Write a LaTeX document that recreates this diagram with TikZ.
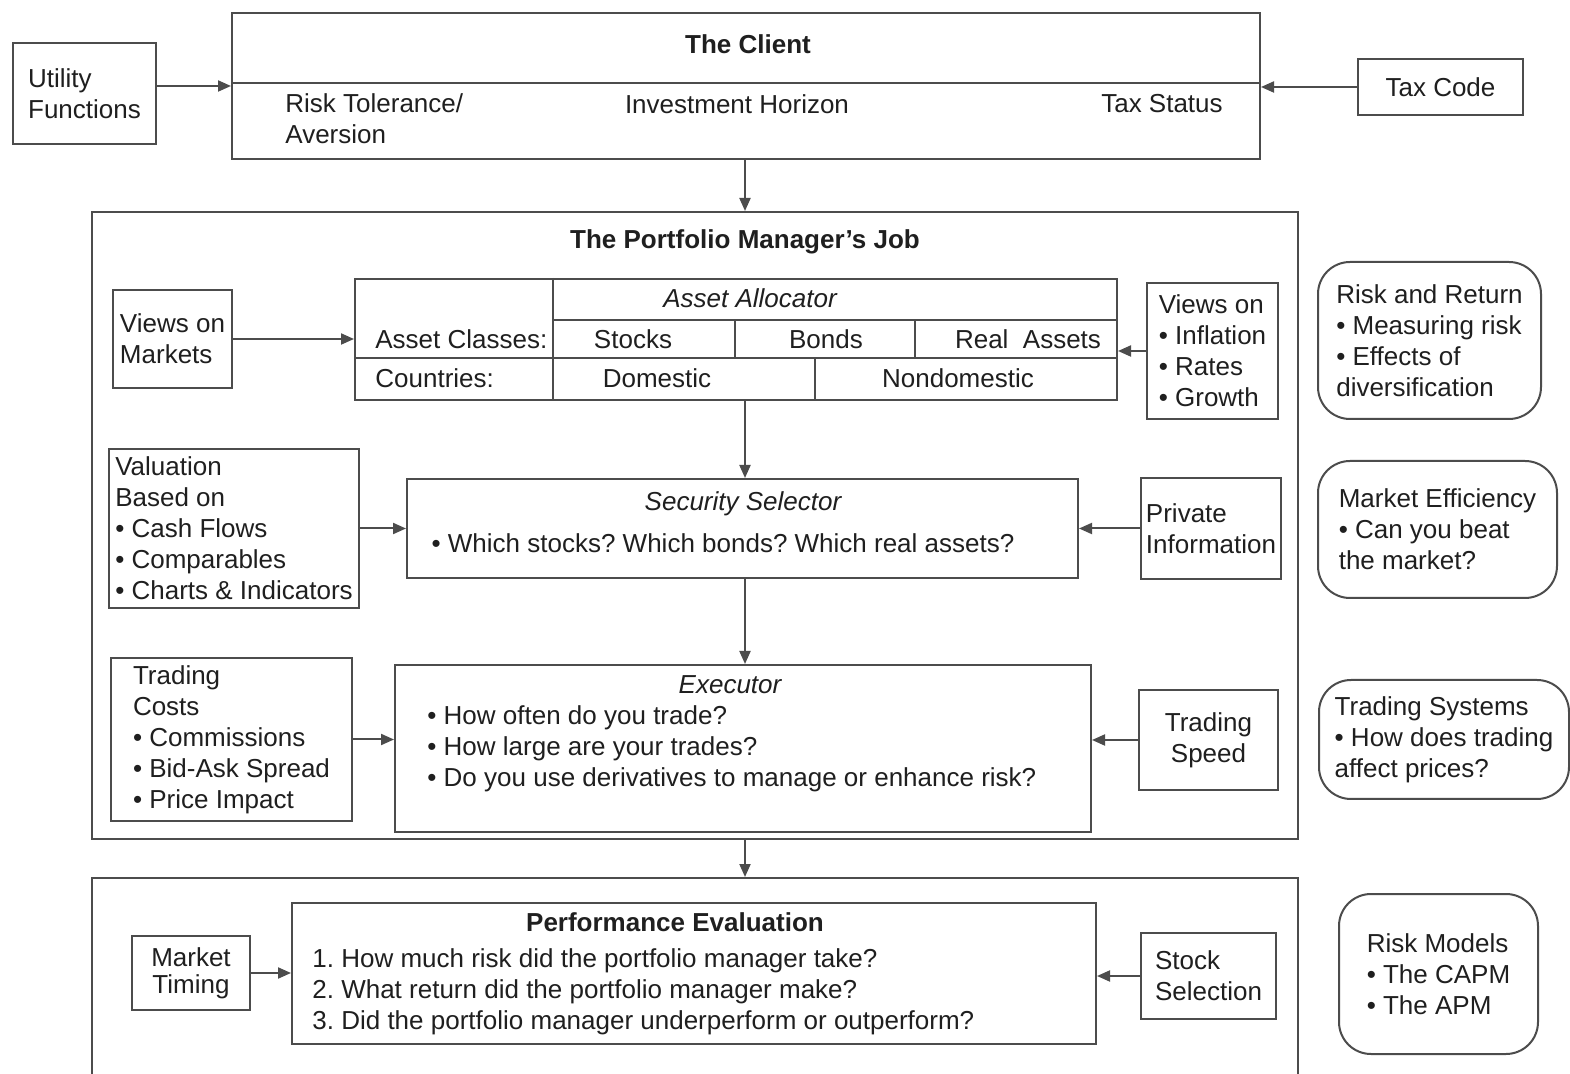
\documentclass[tikz,border=0pt]{standalone}
\usepackage{fontspec}
\setmainfont{Liberation Sans}
\usetikzlibrary{arrows.meta}
\frenchspacing
\begin{document}
\begin{tikzpicture}[x=0.5pt,y=-0.5pt,
  every node/.style={font=\fontsize{13}{15.5}\selectfont, text=black!88},
  ln/.style={draw=black!70, line width=1pt},
  bx/.style={ln, rectangle, inner sep=0pt, anchor=north west, align=left},
  rbx/.style={bx, rounded corners=16pt},
  txt/.style={inner sep=0pt},
  arr/.style={ln, -{Triangle[length=6.5pt,width=5.5pt]}},
  ttl/.style={txt, font=\fontsize{13}{15.5}\selectfont\bfseries},
  itl/.style={txt, font=\fontsize{13}{15.5}\selectfont\itshape}
]
\useasboundingbox (0,0) rectangle (1570,1074);
\clip (0,0) rectangle (1570,1074);
\fill[white] (0,0) rectangle (1570,1074);
\coordinate (spine) at (745,0);

% Client
\node[bx, minimum width=514pt, minimum height=73pt] (client) at (231,12) {};
\draw[ln] ([yshift=1.5pt]client.west) -- ([yshift=1.5pt]client.east);
\node[ttl] (clientT) at (748,44) {The Client};
\node[txt, anchor=west, align=left] (risk) at (285,118.5) {Risk Tolerance/\\Aversion};
\node[txt] (horiz) at (737,104) {Investment Horizon};
\node[txt] (taxs) at (1162,104) {Tax Status};

\node[bx, minimum width=71.5pt, minimum height=50.5pt] (util) at (12,42) {Utility\\Functions};
\node[bx, minimum width=82.5pt, minimum height=28pt, align=center] (tax) at (1357,58) {Tax Code};
\draw[arr] (util.east |- client.west) -- (client.west);
\draw[arr] (tax.west) -- (tax.west -| client.east);

% Portfolio manager
\node[bx, minimum width=603pt, minimum height=313.5pt] (pm) at (91,211) {};
\draw[arr] (client.south -| spine) -- (pm.north -| spine);
\node[ttl] (pmT) at (745,242) {The Portfolio Manager's Job};

% Asset allocator table
\node[bx, minimum width=381pt, minimum height=60.5pt] (alloc) at (354,278) {};
\draw[ln] (553,278) -- (553,399);
\draw[ln] (553,320) -- (1116,320);
\draw[ln] (354,358) -- (1116,358);
\draw[ln] (735,320) -- (735,358);
\draw[ln] (915,320) -- (915,358);
\draw[ln] (815,358) -- (815,399);
\node[itl] (aaT) at (750,298) {Asset Allocator};
\node[txt, anchor=west] (acl) at (375,339) {Asset Classes:};
\node[txt, anchor=west] (ctl) at (375,378) {Countries:};
\node[txt] (stk) at (633,339) {Stocks};
\node[txt] (bnd) at (826,339) {Bonds};
\node[txt] (rea) at (1028,339) {Real\ \ Assets};
\node[txt] (dom) at (657,378) {Domestic};
\node[txt] (ndom) at (958,378) {Nondomestic};

\node[bx, minimum width=59.5pt, minimum height=49pt] (vm) at (112,289) {Views on\\Markets};
\draw[arr] (vm.east) -- (vm.east -| alloc.west);
\node[bx, minimum width=65.5pt, minimum height=68pt] (vi) at (1146,282) {Views on\\• Inflation\\• Rates\\• Growth};
\draw[arr] (vi.west) -- (vi.west -| alloc.east);

% Security selector
\node[bx, minimum width=335.5pt, minimum height=49.5pt] (ss) at (406,478) {};
\draw[arr] (alloc.south -| spine) -- (ss.north -| spine);
\node[itl] (ssT) at (743,504) {Security Selector};
\node[txt] (ssQ) at (723,543) {• Which stocks? Which bonds? Which real assets?};
\node[bx, minimum width=125pt, minimum height=79.5pt] (val) at (108,448) {Valuation\\Based on\\• Cash Flows\\• Comparables\\• Charts \& Indicators};
\draw[arr] (val.east) -- (val.east -| ss.west);
\node[bx, minimum width=70pt, minimum height=50.5pt] (pi) at (1140,477) {Private\\Information};
\draw[arr] (pi.west) -- (pi.west -| ss.east);

% Executor
\node[bx, minimum width=348pt, minimum height=83.5pt] (ex) at (394,664) {};
\draw[arr] (ss.south -| spine) -- (ex.north -| spine);
\node[itl] (exT) at (730,685) {Executor};
\node[txt, anchor=west, align=left] (exQ) at (427,748.5) {• How often do you trade?\\• How large are your trades?\\• Do you use derivatives to manage or enhance risk?};
\node[bx, minimum width=120.5pt, minimum height=81.5pt] (tc) at (110,657) {Trading\\Costs\\• Commissions\\• Bid-Ask Spread\\• Price Impact};
\draw[arr] (tc.east) -- (tc.east -| ex.west);
\node[bx, minimum width=69.5pt, minimum height=50pt, align=center] (ts) at (1138,689) {Trading\\Speed};
\draw[arr] (ts.west) -- (ts.west -| ex.east);

% Performance evaluation
\node[bx, minimum width=603pt, minimum height=111.5pt] (bot) at (91,877) {};
\draw[arr] (pm.south -| spine) -- (bot.north -| spine);
\node[bx, minimum width=402pt, minimum height=70.5pt] (pe) at (291,902) {};
\node[ttl] (peT) at (675,922) {Performance Evaluation};
\node[txt, anchor=west, align=left] (peQ) at (312,991.5) {1. How much risk did the portfolio manager take?\\2. What return did the portfolio manager make?\\3. Did the portfolio manager underperform or outperform?};
\node[bx, minimum width=59pt, minimum height=37pt, align=center, font=\fontsize{13}{13.5}\selectfont] (mt) at (131,935) {Market\\Timing};
\draw[arr] (mt.east) -- (mt.east -| pe.west);
\node[bx, minimum width=67.5pt, minimum height=43pt] (ssel) at (1140,932) {Stock\\Selection};
\draw[arr] (ssel.west) -- (ssel.west -| pe.east);

% Theory boxes
\node[rbx, minimum width=111.5pt, minimum height=78.5pt] (rr) at (1317,261) {Risk and Return\\• Measuring risk\\• Effects of\\diversification};
\node[rbx, minimum width=119.5pt, minimum height=68.5pt] (me) at (1317,460) {Market Efficiency\\• Can you beat\\the market?};
\node[rbx, minimum width=125pt, minimum height=59.5pt] (tsys) at (1318,679) {Trading Systems\\• How does trading\\affect prices?};
\node[rbx, minimum width=99.5pt, minimum height=80pt] (rm) at (1338,893) {Risk Models\\• The CAPM\\• The APM};
\end{tikzpicture}
\end{document}
